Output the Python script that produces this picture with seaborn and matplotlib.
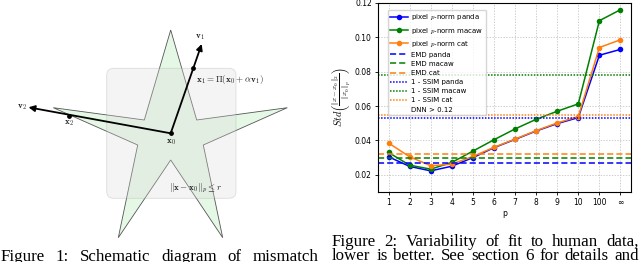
import numpy as np
import pandas as pd
import seaborn as sns
import matplotlib.pyplot as plt
from matplotlib.patches import Polygon, FancyBboxPatch

# chart data
p_labels = ['1', '2', '3', '4', '5', '6', '7', '8', '9', '10', '100', '∞']
panda = [0.0305, 0.0249, 0.0223, 0.0250, 0.0300, 0.0358, 0.0406, 0.0455, 0.0498, 0.0533, 0.0896, 0.0930]
macaw = [0.0330, 0.0256, 0.0233, 0.0272, 0.0338, 0.0404, 0.0467, 0.0523, 0.0570, 0.0613, 0.1097, 0.1161]
cat = [0.0385, 0.0305, 0.0253, 0.0262, 0.0307, 0.0360, 0.0408, 0.0457, 0.0502, 0.0539, 0.0941, 0.0986]
emd_vals = [0.0268, 0.0297, 0.0319]
ssim_vals = [0.0531, 0.0780, 0.0550]
names = ['panda', 'macaw', 'cat']
colors = ['blue', 'green', '#ff7f0e']

# schematic (pixel coordinates of the left panel)
star_x = [170.7, 196.7, 287.3, 203.3, 222.7, 170.7, 118.3, 137.7, 53.3, 144.3]
star_y = [30.0, 120.0, 107.7, 145.0, 237.7, 160.0, 237.7, 145.0, 107.7, 120.0]
x0_pt = (170.7, 133.3)
v1_tip = (201.7, 44.0)
v2_tip = (28.5, 107.3)
x1_pt = (192.7, 68.3)
x2_pt = (69.0, 115.7)

W, H = 640, 262
fig = plt.figure(figsize=(W / 100, H / 100), dpi=100)
plt.rcParams['mathtext.fontset'] = 'cm'

# ---- left: schematic diagram
axl = fig.add_axes([0, 0, 0.5, 1])
axl.set_xlim(0, 320)
axl.set_ylim(H, 0)
axl.axis('off')
axl.add_patch(Polygon(np.column_stack([star_x, star_y]), closed=True,
                      facecolor='#e5f7e5', edgecolor='#555555', lw=0.6))
axl.add_patch(FancyBboxPatch((106.7, 68.3), 129.3, 130,
                             boxstyle='round,pad=0,rounding_size=7',
                             facecolor='#dcdcdc', alpha=0.3,
                             edgecolor='#999999', lw=0.6))
for tip in (v1_tip, v2_tip):
    axl.annotate('', xy=tip, xytext=x0_pt,
                 arrowprops=dict(arrowstyle='-|>', lw=1.3, color='black',
                                 mutation_scale=9, shrinkA=0, shrinkB=0))
pts = np.array([x0_pt, x1_pt, x2_pt])
axl.scatter(pts[:, 0], pts[:, 1], s=6, color='black', zorder=5)
lab = dict(fontsize=6.5, color='#222222')
axl.text(200, 37.5, r'$\mathbf{v}_1$', ha='center', va='center', **lab)
axl.text(21.5, 107.5, r'$\mathbf{v}_2$', ha='center', va='center', **lab)
axl.text(69, 123.5, r'$\mathbf{x}_2$', ha='center', va='center', **lab)
axl.text(170.7, 142, r'$\mathbf{x}_0$', ha='center', va='center', **lab)
axl.text(196, 80, r'$\mathbf{x}_1 = \Pi(\mathbf{x}_0 + \alpha\mathbf{v}_1)$',
         ha='left', va='center', **lab)
axl.text(169, 188.5, r'$\Vert\mathbf{x} - \mathbf{x}_0\Vert_p \leq r$',
         ha='left', va='center', **lab)

# ---- right: chart
ax = fig.add_axes([378 / W, 1 - 192 / H, (631 - 378) / W, (192 - 3) / H])
pos = np.arange(len(p_labels))
for vals, name, c in zip([panda, macaw, cat], names, colors):
    sns.lineplot(x=pos, y=vals, color=c, marker='o', markersize=4,
                 markeredgewidth=0, lw=1.1, label='pixel $p$-norm ' + name,
                 ax=ax, legend=False)
for v, name, c in zip(emd_vals, names, colors):
    ax.axhline(v, color=c, ls=(0, (4, 2)), lw=1.1, label='EMD ' + name)
for v, name, c in zip(ssim_vals, names, colors):
    ax.axhline(v, color=c, ls=(0, (1, 1)), lw=1.1, label='1 - SSIM ' + name)
ax.plot([], [], color='none', label='DNN > 0.12')

ax.set_xlim(-0.5, 11.5)
ax.set_ylim(0.01, 0.12)
ax.set_xticks(pos, p_labels)
ax.set_yticks([0.02, 0.04, 0.06, 0.08, 0.10, 0.12])
ax.tick_params(labelsize=5.5, length=2.5, width=0.6, pad=2)
ax.grid(True, color='#bbbbbb', ls=(0, (2, 2)), lw=0.5)
for s in ax.spines.values():
    s.set_linewidth(0.8)
ax.set_xlabel('p', fontsize=5.5, labelpad=1)
ax.set_ylabel(r'$Std\left(\frac{\Vert x-x_0\Vert_2}{\Vert x_0\Vert_p}\right)$',
              fontsize=7.5, labelpad=1)
h, l = ax.get_legend_handles_labels()
ax.legend(h, l, loc='upper left', bbox_to_anchor=(10 / 253, 1 - 7 / 189),
          borderaxespad=0, fontsize=5.0, handlelength=2.6,
          labelspacing=0.45, borderpad=0.35, handletextpad=0.4,
          framealpha=0.8)

# ---- captions (justified word by word)
cap_font = dict(family='Liberation Serif', fontsize=12.2, color='black')


def justify(line, xl, xr, ybase):
    words = line.split()
    texts = [fig.text(0, 1 - ybase / H, w, va='baseline', **cap_font) for w in words]
    r = fig.canvas.get_renderer()
    widths = [t.get_window_extent(r).width for t in texts]
    gap = (xr - xl - sum(widths)) / (len(words) - 1)
    x = xl
    for t, w in zip(texts, widths):
        t.set_x(x / W)
        x += w + gap


justify('Figure 1: Schematic diagram of mismatch', 1, 318, 261)
justify('Figure 2: Variability of fit to human data,', 332, 639, 246)
justify('lower is better. See section 6 for details and', 332, 639, 259.5)

fig.savefig('out.png', dpi=100)
